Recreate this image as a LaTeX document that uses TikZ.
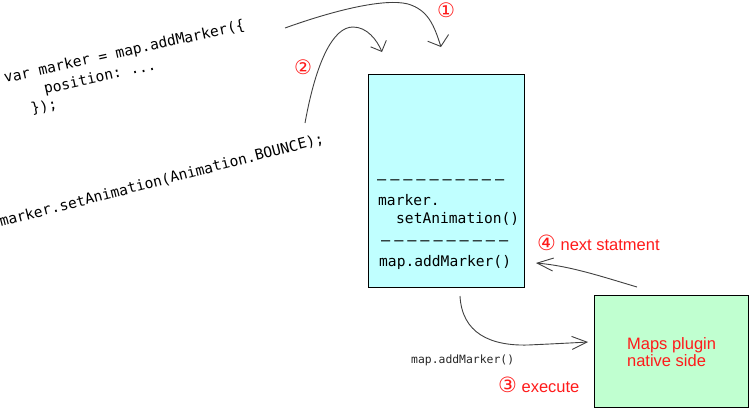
\documentclass[tikz,border=0pt]{standalone}
\usepackage{fontspec}
\setmainfont{Liberation Sans}
\setmonofont{DejaVu Sans Mono}
\newfontfamily\circfont{DejaVu Sans}
\usetikzlibrary{arrows.meta}
\definecolor{jscyan}{HTML}{C0FFFF}
\definecolor{natgreen}{HTML}{C0FFD0}
\definecolor{redtxt}{HTML}{FF1A1A}
\definecolor{arrowgray}{HTML}{404040}
\newcommand{\dashrow}{\makebox[127pt][s]{–\hfill–\hfill–\hfill–\hfill–\hfill–\hfill–\hfill–\hfill–\hfill–}}
\newcommand{\circd}[1]{{\circfont\fontsize{21}{21}\selectfont #1}}
\begin{document}
\begin{tikzpicture}[x=1pt,y=-1pt,
  code/.style={font=\ttfamily\fontsize{14.6}{18}\selectfont, inner sep=0pt, anchor=base west},
  smallcode/.style={font=\ttfamily\fontsize{11.4}{14}\selectfont, inner sep=0pt, anchor=base west, text=black!85},
  dashtext/.style={font=\fontsize{16.5}{17}\selectfont, inner sep=0pt, anchor=base west},
  redlabel/.style={font=\fontsize{16.5}{17}\selectfont, text=redtxt, inner sep=0pt, anchor=base west},
  circnum/.style={font=\circfont\fontsize{20}{20}\selectfont, text=redtxt, inner sep=0pt},
  flow/.style={draw=arrowgray, line width=0.9pt},
  jsbox/.style={draw=black, line width=1.2pt, fill=jscyan, minimum width=156pt, minimum height=213pt, inner sep=0pt, anchor=north west},
  nativebox/.style={draw=black, line width=1.2pt, fill=natgreen, minimum width=154pt, minimum height=112pt, inner sep=0pt, anchor=north west,
     text=redtxt, align=left, font=\fontsize{16.5}{17}\selectfont}
]
\useasboundingbox (0,0) rectangle (749,408);

% rotated source code
\node[code, rotate=12.5] (l1) at (5,83) {var marker = map.addMarker(\{};
\node[code, rotate=12.5] (l2) at (45,94) {position: ...};
\node[code, rotate=12.5] (l3) at (32,114) {\});};
\node[code, rotate=14.5] (l4) at (1,227) {marker.setAnimation(Animation.BOUNCE);};

% JS call stack box
\node[jsbox] (js) at (368,74) {};
\node[dashtext] (d1) at (377,184.5) {\dashrow};
\node[code] (t1) at (378,205) {marker.};
\node[code] (t2) at (396,223) {setAnimation()};
\node[dashtext] (d2) at (381,245.5) {\dashrow};
\node[code] (t3) at (379,266) {map.addMarker()};

% native box
\node[nativebox] (nat) at (594,295) {Maps plugin\\native side};

% labels
\node[circnum] (n1) at (446,10) {①};
\node[circnum] (n2) at (303,67) {②};
\node[redlabel] (lab4) at (537,250) {\circd{④} next statment};
\node[redlabel] (lab3) at (498,392) {\circd{③} execute};
\node[smallcode] (call) at (411,363) {map.addMarker()};

% connectors
\coordinate (a1s) at (285,28);
\coordinate (a1e) at (441,47);
\coordinate (a2s) at (305,123);
\coordinate (a2e) at (382,52);
\coordinate (a3s) at (460,296);
\coordinate (a3e) at (588,342);
\coordinate (a4s) at (637,287);
\coordinate (a4e) at (536,263);

\draw[flow, -{Straight Barb[length=9pt,width=22pt]}]
  (a1s) .. controls (335,10) and (385,-2) .. (408,4) .. controls (428,10) and (434,25) .. (a1e);
\draw[flow, -{Straight Barb[length=8.5pt,width=17pt]}]
  (a2s) .. controls (316,62) and (333,27) .. (353,27) .. controls (367,27) and (377,40) .. (a2e);
\draw[flow, -{Straight Barb[length=15pt,width=13pt]}]
  (a3s) .. controls (462,333) and (490,346) .. (528,345) .. controls (550,344) and (570,343) .. (a3e);
\draw[flow, -{Straight Barb[length=16pt,width=13pt]}]
  (a4s) .. controls (600,276) and (570,266) .. (a4e);
\end{tikzpicture}
\end{document}
